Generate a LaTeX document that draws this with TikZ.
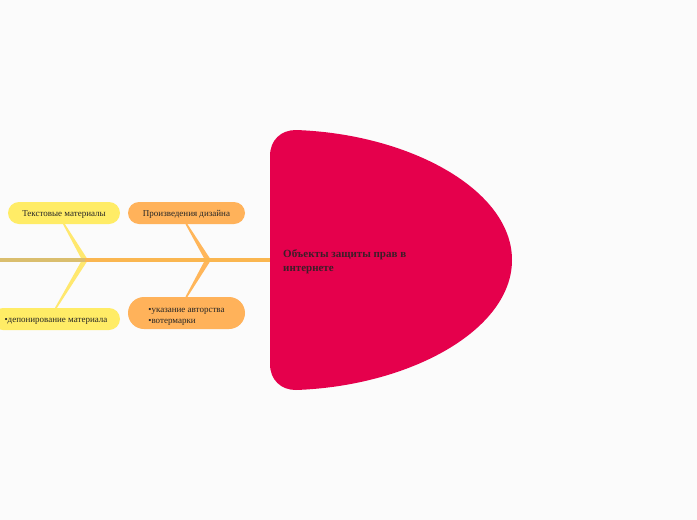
\documentclass[tikz,border=0pt]{standalone}
\usepackage{fontspec}
\setmainfont{Liberation Serif}
\begin{document}
\begin{tikzpicture}[x=1pt,y=-1pt,
  box/.style={rounded corners=11pt,minimum height=22pt,inner sep=0pt,font=\fontsize{9}{10}\selectfont,text=black!85},
  ybox/.style={box,fill=yboxc,text height=7pt,text depth=0pt},
  obox/.style={box,fill=oboxc}]
\definecolor{bgc}{RGB}{251,251,251}
\definecolor{headc}{RGB}{229,0,76}
\definecolor{yboxc}{RGB}{255,236,102}
\definecolor{oboxc}{RGB}{255,178,90}
\definecolor{spinel}{RGB}{218,190,110}
\definecolor{spiner}{RGB}{250,182,80}
\definecolor{ybone}{RGB}{255,232,110}
\definecolor{obone}{RGB}{255,182,90}
\fill[bgc] (0,0) rectangle (697,520);
\useasboundingbox (0,0) rectangle (697,520);
% head
\fill[headc] (296,130) .. controls (410,134) and (512,190) .. (512,260)
  .. controls (512,330) and (410,386) .. (296,390)
  .. controls (281,390) and (270,380) .. (270,364)
  -- (270,156) .. controls (270,140) and (281,130) .. (296,130) -- cycle;
\node[anchor=west,align=left,font=\fontsize{11}{13.5}\selectfont\bfseries,text={rgb,255:red,60;green,30;blue,40},inner sep=0pt] (title) at (283,261.5) {Объекты защиты прав в\\интернете};
% spine
\coordinate (s0) at (0,260);
\coordinate (s1) at (85,260);
\coordinate (s2) at (208,260);
\coordinate (s3) at (270,260);
% boxes
\node[ybox,minimum width=112pt] (t1) at (64,213) {Текстовые материалы};
\node[obox,minimum width=117pt,text height=7pt,text depth=0pt] (t2) at (186.5,213) {Произведения дизайна};
\node[ybox,minimum width=128pt] (b1) at (56,319) {•депонирование материала};
\node[obox,minimum width=117pt,minimum height=32pt,rounded corners=16pt,align=left,font=\fontsize{9}{11}\selectfont] (b2) at (186.5,313) {\rule{0pt}{11.5pt}•указание авторства\\•вотермарки};
% bones
\fill[ybone] (t1.south) ++(-1,0) -- ([xshift=-3pt]s1) -- ([xshift=3pt]s1) -- ([xshift=1pt]t1.south) -- cycle;
\fill[ybone] (b1.north) ++(-1,0) -- ([xshift=-3pt]s1) -- ([xshift=3pt]s1) -- ([xshift=1pt]b1.north) -- cycle;
\fill[obone] (t2.south) ++(-1,0) -- ([xshift=-3pt]s2) -- ([xshift=3pt]s2) -- ([xshift=1pt]t2.south) -- cycle;
\fill[obone] (b2.north) ++(-1,0) -- ([xshift=-3pt]s2) -- ([xshift=3pt]s2) -- ([xshift=1pt]b2.north) -- cycle;
\draw[line width=3.5pt,spiner] (s1) -- (s3);
\draw[line width=3.5pt,spinel] (s0) -- (s1);
\end{tikzpicture}
\end{document}
